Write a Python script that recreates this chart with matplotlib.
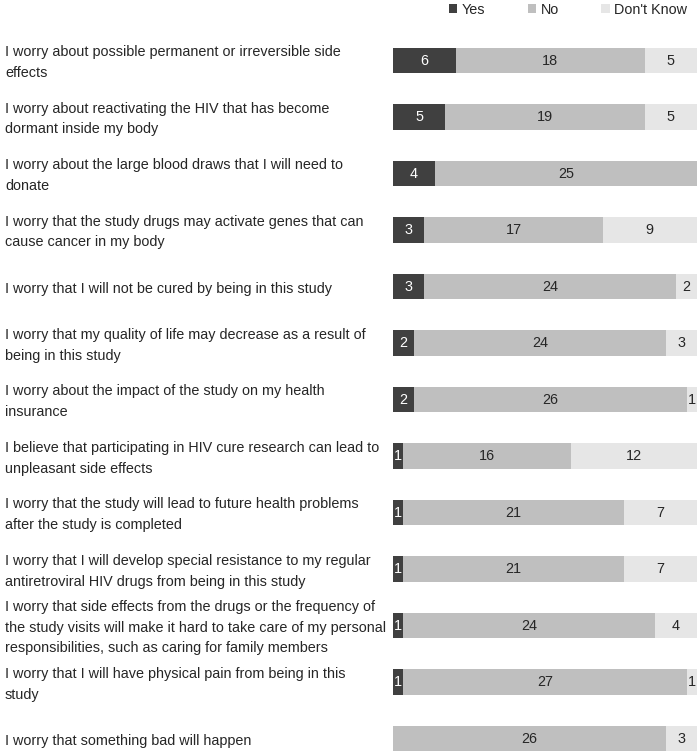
import numpy as np
import matplotlib
matplotlib.use('Agg')
import matplotlib.pyplot as plt

# 问卷条目与回答人数
labels = [
    'I worry about possible permanent or irreversible side\neffects',
    'I worry about reactivating the HIV that has become\ndormant inside my body',
    'I worry about the large blood draws that I will need to\ndonate',
    'I worry that the study drugs may activate genes that can\ncause cancer in my body',
    'I worry that I will not be cured by being in this study',
    'I worry that my quality of life may decrease as a result of\nbeing in this study',
    'I worry about the impact of the study on my health\ninsurance',
    'I believe that participating in HIV cure research can lead to\nunpleasant side effects',
    'I worry that the study will lead to future health problems\nafter the study is completed',
    'I worry that I will develop special resistance to my regular\nantiretroviral HIV drugs from being in this study',
    'I worry that side effects from the drugs or the frequency of\nthe study visits will make it hard to take care of my personal\nresponsibilities, such as caring for family members',
    'I worry that I will have physical pain from being in this\nstudy',
    'I worry that something bad will happen',
]
yes = [6, 5, 4, 3, 3, 2, 2, 1, 1, 1, 1, 1, 0]
no = [18, 19, 25, 17, 24, 24, 26, 16, 21, 21, 24, 27, 26]
dont_know = [5, 5, 0, 9, 2, 3, 1, 12, 7, 7, 4, 1, 3]

series = [('Yes', yes, '#404040', 'white'),
          ('No', no, '#bfbfbf', '#262626'),
          ("Don't Know", dont_know, '#e6e6e6', '#262626')]

plt.rcParams['font.family'] = ['Liberation Sans', 'DejaVu Sans']
fs = 10.4

fig = plt.figure(figsize=(7, 7.54), dpi=100)
ax = fig.add_axes([393 / 700, 0, 304 / 700, (754 - 32.25) / 754])

y = np.arange(len(labels))
left = np.zeros(len(labels))
for name, vals, col, tcol in series:
    vals = np.array(vals, dtype=float)
    bars = ax.barh(y, vals, left=left, height=0.45, color=col, label=name)
    for b, v in zip(bars, vals):
        if v > 0:
            ax.text(b.get_x() + b.get_width() / 2, b.get_y() + b.get_height() / 2,
                    '%d' % v, ha='center', va='center', color=tcol, fontsize=fs)
    left += vals

ax.set_xlim(0, 29)
ax.set_ylim(12.274, -0.5)
ax.axis('off')

for yi, lab in zip(y, labels):
    ax.annotate(lab, xy=(5 / 700, yi), xycoords=('figure fraction', 'data'),
                xytext=(0, -1.5), textcoords='offset points',
                ha='left', va='center', fontsize=fs, color='#262626',
                linespacing=1.62)

fig.legend(loc='upper center', bbox_to_anchor=(568 / 700, 1.004), ncol=3, frameon=False,
           fontsize=fs, handlelength=0.6, handleheight=0.6, handletextpad=0.3,
           columnspacing=2.95, borderaxespad=0.0, labelcolor='#262626')

plt.savefig('out.png', dpi=100)
plt.close()
